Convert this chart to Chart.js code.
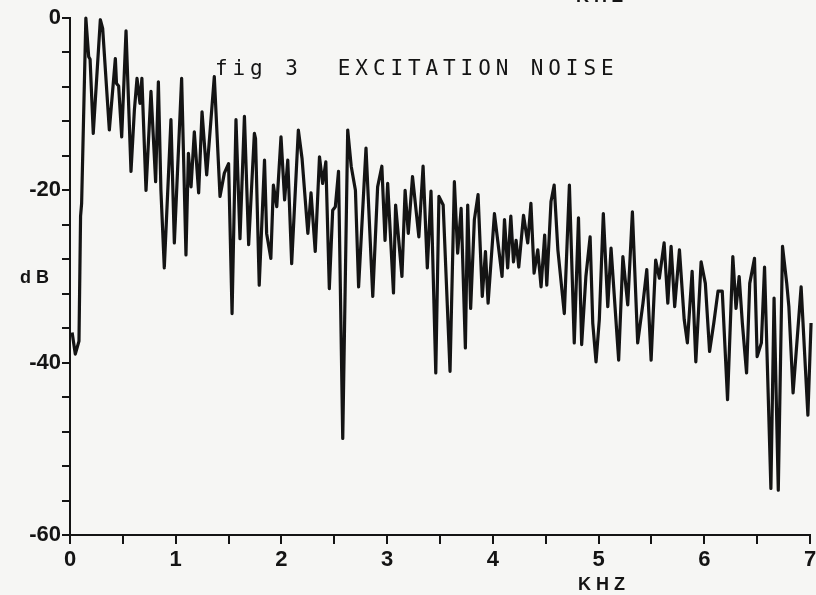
<!DOCTYPE html>
<html>
<head>
<meta charset="utf-8">
<script src="https://cdn.jsdelivr.net/npm/chart.js@4.4.1/dist/chart.umd.min.js"></script>
<style>
  html, body { margin: 0; padding: 0; width: 816px; height: 595px; overflow: hidden; background: #f6f6f4; }
  #wrap { position: absolute; left: 0; top: 0; width: 830px; height: 595px; }
  .lbl { position: absolute; color: #141414; white-space: pre; }
  #title { left: 215px; top: 56px; font: 21px "DejaVu Sans Mono", monospace; letter-spacing: 4.9px; }
  #ylab { left: 20px; top: 267px; font: bold 18px "Liberation Sans", Arial, sans-serif; letter-spacing: 5px; }
  #xlab { left: 578px; top: 574px; font: bold 18px "Liberation Sans", Arial, sans-serif; letter-spacing: 5px; }
  #xlabTop { left: 576px; top: -14px; font: bold 18px "Liberation Sans", Arial, sans-serif; letter-spacing: 5px; }
</style>
</head>
<body>
<div id="wrap"><canvas id="chart" width="830" height="595"></canvas></div>
<div class="lbl" id="xlabTop">KHZ</div>
<div class="lbl" id="title">fig 3  EXCITATION NOISE</div>
<div class="lbl" id="ylab">dB</div>
<div class="lbl" id="xlab">KHZ</div>
<script>
// spectrum, frequency in kHz
var freqKHz = [
  0.02, 0.05, 0.085, 0.10, 0.11, 0.15, 0.177, 0.19, 0.22, 0.287, 0.309, 0.372, 0.429, 0.44, 0.46, 0.489,
  0.53, 0.577, 0.609, 0.634, 0.662, 0.68, 0.719, 0.766, 0.81, 0.836, 0.86, 0.892, 0.955, 0.987,
  1.056, 1.097, 1.12, 1.145, 1.176, 1.217, 1.249, 1.293, 1.365, 1.419, 1.46, 1.50, 1.533, 1.57,
  1.608, 1.65, 1.69, 1.744, 1.755, 1.79, 1.84, 1.86, 1.90, 1.924, 1.956, 1.996,
  2.03, 2.06, 2.097, 2.16, 2.195, 2.25, 2.28, 2.32, 2.36, 2.39, 2.42, 2.453, 2.485, 2.51, 2.54, 2.58,
  2.627, 2.66, 2.70, 2.73, 2.80, 2.864, 2.91, 2.95, 2.98,
  3.005, 3.06, 3.08, 3.14, 3.17, 3.20, 3.24, 3.30, 3.34, 3.38, 3.415, 3.46, 3.49, 3.53, 3.595,
  3.636, 3.667, 3.70, 3.74, 3.762, 3.79, 3.825, 3.86, 3.90, 3.93, 3.955,
  4.015, 4.087, 4.11, 4.14, 4.17, 4.195, 4.22, 4.245, 4.29, 4.33, 4.36, 4.39, 4.425, 4.456, 4.49,
  4.51, 4.55, 4.58, 4.615, 4.676, 4.724, 4.77, 4.81, 4.84, 4.88, 4.92, 4.945, 4.976,
  5.007, 5.045, 5.087, 5.118, 5.19, 5.23, 5.276, 5.32, 5.37, 5.42, 5.456, 5.497, 5.54, 5.575, 5.62,
  5.655, 5.686, 5.72, 5.765, 5.81, 5.84, 5.885, 5.92, 5.97,
  6.01, 6.05, 6.09, 6.13, 6.17, 6.22, 6.27, 6.30, 6.33, 6.36, 6.40, 6.43, 6.475, 6.50, 6.54, 6.57,
  6.63, 6.66, 6.70, 6.74, 6.78, 6.80, 6.84, 6.916, 6.98, 7.01
];
// level in dB at each frequency above
var levelDB = [
  -36.5, -39, -37.5, -23, -21.5, 0, -4.5, -4.8, -13.4, -0.2, -1.2, -13, -4.7, -7.6, -7.9, -13.8,
  -1.5, -17.8, -10.7, -7, -9.9, -7, -20, -8.5, -19, -7.4, -20, -29, -11.8, -26.1,
  -7, -27.5, -15.7, -19.6, -13.2, -20.3, -10.9, -18.2, -6.8, -20.7, -18, -16.9, -34.3, -11.8,
  -25.6, -11.4, -26.3, -13.4, -14, -31, -16.5, -25, -27.9, -19.4, -21.9, -13.8,
  -21.1, -16.5, -28.5, -13, -16.3, -25, -20.3, -27.1, -16.1, -19.2, -16.7, -31.4, -22.3, -21.9, -17.8, -48.8,
  -13, -17.2, -20, -31.2, -15.1, -32.3, -19.6, -17.2, -25.8,
  -19.2, -31.9, -21.7, -30, -20, -25, -18.4, -25.4, -17.2, -29, -20.1, -41.2, -20.7, -21.7, -41,
  -19, -27.3, -22.1, -38.3, -21.7, -33.7, -23.4, -20.5, -32.3, -27.1, -33.1,
  -22.7, -30, -23.4, -29, -23, -28.3, -25.8, -28.9, -22.9, -26.1, -21.5, -29.6, -26.9, -31.2, -25.2,
  -31, -21.3, -19.4, -26.9, -34.3, -19.4, -37.7, -23.2, -37.9, -30, -25.4, -35.4, -39.9,
  -35, -22.7, -33.5, -26.7, -39.7, -27.7, -33.3, -22.5, -37.7, -33.1, -29.2, -39.7, -28.1, -30.2, -26.1,
  -33.1, -26.5, -33.5, -26.9, -35, -37.7, -29.4, -39.9, -28.3,
  -30.8, -38.7, -35.4, -31.7, -31.7, -44.3, -27.7, -33.7, -30, -35.4, -41.2, -30.8, -27.9, -39.3, -37.7, -28.9,
  -54.6, -32.5, -54.8, -26.5, -30.8, -33.5, -43.5, -31.2, -46.1, -35.4
];
// labelled ticks
var xLabelKHz = [0, 1, 2, 3, 4, 5, 6, 7];
var yLabelDB = [0, -20, -40, -60];

var points = freqKHz.map(function(f, i) {
    return { x: f, y: levelDB[i] };
});

var ink = '#141414';
var tickFont = { family: '"Liberation Sans", Arial, sans-serif', size: 22, weight: 'bold' };

var chart = new Chart(document.getElementById('chart').getContext('2d'), {
    type: 'line',
    data: {
        datasets: [{
            data: points,
            borderColor: ink,
            borderWidth: 3.2,
            borderJoinStyle: 'round',
            pointRadius: 0,
            tension: 0,
            fill: false,
            clip: false
        }]
    },
    options: {
        responsive: false,
        animation: false,
        devicePixelRatio: 1,
        layout: { padding: { left: 0, top: 18, right: 20, bottom: 0 } },
        plugins: { legend: { display: false }, tooltip: { enabled: false } },
        scales: {
            x: {
                type: 'linear',
                min: 0,
                max: 7,
                border: { color: ink, width: 2 },
                grid: { drawOnChartArea: false, color: ink, lineWidth: 2, tickLength: 9 },
                ticks: {
                    stepSize: 0.5,
                    autoSkip: false,
                    maxRotation: 0,
                    color: ink,
                    font: tickFont,
                    padding: 3,
                    callback: function(v) { return xLabelKHz.indexOf(v) >= 0 ? String(v) : ''; }
                },
                afterFit: function(scale) { scale.height = 60; }
            },
            y: {
                min: -60,
                max: 0,
                border: { color: ink, width: 2 },
                grid: { drawOnChartArea: false, color: ink, lineWidth: 2, tickLength: 8 },
                ticks: {
                    stepSize: 4,
                    autoSkip: false,
                    color: ink,
                    font: tickFont,
                    padding: 1,
                    callback: function(v) { return yLabelDB.indexOf(v) >= 0 ? String(v) : ''; }
                },
                afterFit: function(scale) { scale.width = 70; }
            }
        }
    }
});
</script>
</body>
</html>
